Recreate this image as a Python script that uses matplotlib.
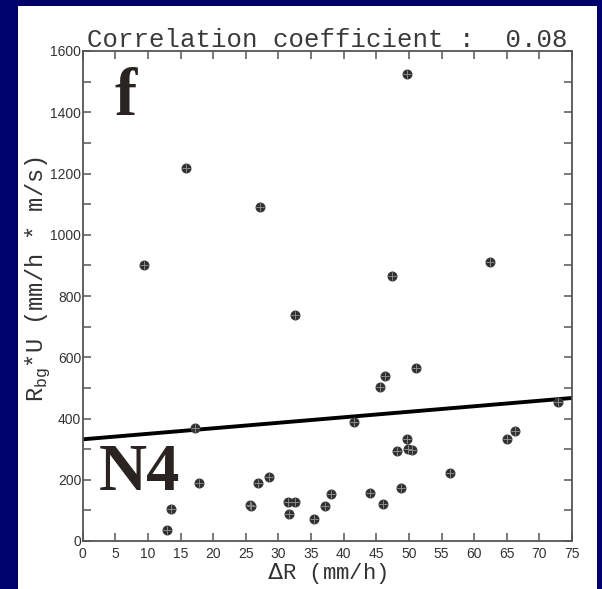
import matplotlib
matplotlib.use("Agg")
import matplotlib.pyplot as plt
from matplotlib.patches import Rectangle
from matplotlib.ticker import MultipleLocator

# scatter points (Delta R, R_bg*U)
delta_r = [9.4, 15.9, 27.2, 49.7, 47.4, 62.5, 32.6, 51.1, 46.4, 45.6,
           17.2, 41.6, 72.8, 66.2, 65.0, 49.7, 49.9, 50.5, 48.1, 56.3,
           17.8, 28.5, 26.9, 48.8, 38.1, 44.1, 25.6, 25.8, 31.5, 32.6,
           46.0, 37.1, 31.6, 35.5, 13.6, 12.9]
rbg_u = [902, 1219, 1089, 1524, 864, 911, 738, 564, 540, 503,
         368, 389, 453, 360, 332, 332, 300, 298, 294, 221,
         191, 209, 191, 174, 152, 156, 117, 115, 128, 128,
         122, 113, 87, 71, 105, 36]

# regression line end points
fit_x = [0, 75]
fit_y = [332, 467]

title = "Correlation coefficient :  0.08"
xlabel = r"$\Delta$R (mm/h)"
ylabel = r"R$_{\mathregular{bg}}$*U (mm/h * m/s)"
panel_tag = "f"
case_tag = "N4"

navy = "#00006b"
axis_grey = "#555555"
mono = ["Liberation Mono", "DejaVu Sans Mono"]

fig = plt.figure(figsize=(6.02, 5.89), dpi=100)
fig.patch.set_facecolor(navy)
fig.patches.append(Rectangle((18 / 602, 0), 579 / 602, 583 / 589,
                             transform=fig.transFigure, facecolor="white",
                             edgecolor="none", zorder=-10))

ax = fig.add_axes([82.7 / 602, 48 / 589, 489.3 / 602, 490 / 589])
ax.set_facecolor("white")

ax.plot(fit_x, fit_y, color="black", linewidth=2.8, zorder=2)
ax.plot(delta_r, rbg_u, linestyle="none", marker="o", markersize=6.2,
        markerfacecolor="#2e2e2e", markeredgecolor="#3a3a3a", zorder=3)
ax.plot(delta_r, rbg_u, linestyle="none", marker="+", markersize=5.5,
        markeredgecolor="#8a8a8a", markeredgewidth=0.7, zorder=4)

ax.set_xlim(0, 75)
ax.set_ylim(0, 1600)
ax.xaxis.set_major_locator(MultipleLocator(5))
ax.yaxis.set_major_locator(MultipleLocator(200))
ax.yaxis.set_minor_locator(MultipleLocator(100))

for s in ax.spines.values():
    s.set_color(axis_grey)
    s.set_linewidth(1.3)

ax.tick_params(which="both", direction="in", top=True, right=True,
               length=6, width=1.1, color=axis_grey, labelcolor="#333333",
               labelsize=10)
ax.tick_params(axis="x", pad=4)
ax.tick_params(axis="y", pad=1)
ax.xaxis.set_tick_params(which="minor", top=False, bottom=False)
for lab in ax.get_xticklabels() + ax.get_yticklabels():
    lab.set_fontfamily("Liberation Sans")

ax.set_title(title, fontsize=18.5, family=mono, color="#3a3a3a", pad=3)
ax.set_xlabel(xlabel, fontsize=16, family=mono, color="#333333", labelpad=0)
ax.set_ylabel(ylabel, fontsize=17, family=mono, color="#333333")
ax.yaxis.set_label_coords(-0.062, 0.535)

ax.text(0.066, 0.869, panel_tag, transform=ax.transAxes, ha="left",
        va="baseline", fontsize=48, fontweight="bold",
        family="Liberation Serif", color="#2b2222")
ax.text(0.033, 0.104, case_tag, transform=ax.transAxes, ha="left",
        va="baseline", fontsize=48, fontweight="bold",
        family="Liberation Serif", color="#2b2222")

fig.savefig("out.png", dpi=100, facecolor=navy)
